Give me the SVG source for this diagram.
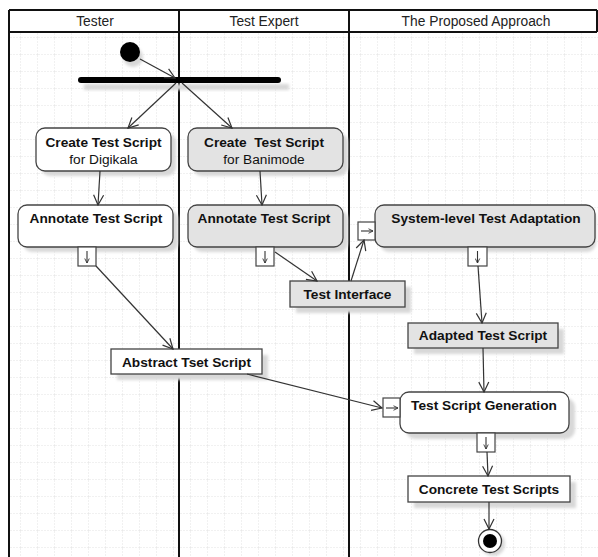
<svg xmlns="http://www.w3.org/2000/svg" width="598" height="557" viewBox="0 0 598 557">
<defs>
<pattern id="grid" width="17" height="17" patternUnits="userSpaceOnUse" x="4" y="4">
<path d="M17,0 V17 M0,17 H17" fill="none" stroke="#e2e2e2" stroke-width="1" stroke-dasharray="2,1"/>
</pattern>
<filter id="blur" x="-20%" y="-20%" width="140%" height="140%"><feGaussianBlur stdDeviation="1.5"/></filter>
<marker id="arr" viewBox="0 0 12 12" refX="11" refY="6" markerWidth="12" markerHeight="12" markerUnits="userSpaceOnUse" orient="auto">
<path d="M1,1 L11,6 L1,11" fill="none" stroke="#333" stroke-width="1.2"/>
</marker>
<marker id="pinarr" viewBox="0 0 8 8" refX="7" refY="4" markerWidth="6" markerHeight="6" markerUnits="userSpaceOnUse" orient="auto">
<path d="M1,1 L7,4 L1,7" fill="none" stroke="#333" stroke-width="1.2"/>
</marker>
</defs>
<style>
.sh{fill:#d8d8d8;filter:url(#blur);}
.act{stroke:#444;stroke-width:1.3;}
.w{fill:#fff;}
.g{fill:#e3e3e3;}
.t{font-family:"Liberation Sans",Arial,sans-serif;font-size:13.7px;fill:#111;text-anchor:middle;}
.b{font-weight:bold;}
.h{font-family:"Liberation Sans",Arial,sans-serif;font-size:13.8px;fill:#222;text-anchor:middle;}
.lane{stroke:#111;stroke-width:2;fill:none;}
.c{stroke:#333;stroke-width:1.2;fill:none;marker-end:url(#arr);}
.pin{fill:#fff;stroke:#444;stroke-width:1.2;}
.pa{stroke:#333;stroke-width:1.1;fill:none;marker-end:url(#pinarr);}
</style>
<rect width="598" height="557" fill="#fff"/>
<rect x="9" y="32" width="589" height="525" fill="url(#grid)"/>

<g id="lanes">
<rect x="9" y="10" width="588" height="22" fill="#fff"/>
<path class="lane" d="M9,10 H597 M9,32 H597 M9,10 V557 M179,10 V557 M349,10 V557 M597,10 V32"/>
<text class="h" x="95" y="26">Tester</text>
<text class="h" x="264" y="26">Test Expert</text>
<text class="h" x="476" y="26">The Proposed Approach</text>
</g>

<g id="start">
<circle cx="133" cy="57" r="10" class="sh"/>
<circle cx="130" cy="52" r="10" fill="#000"/>
</g>

<g id="fork">
<rect x="84" y="84" width="205" height="6" class="sh"/>
<rect x="78" y="77" width="203" height="6" rx="3" fill="#000"/>
</g>

<g id="create-digikala">
<rect x="41" y="133" width="135" height="43" rx="9" class="sh"/>
<rect x="36" y="128" width="135" height="43" rx="9" class="act w"/>
<text class="t b" x="103.5" y="147">Create Test Script</text>
<text class="t" x="103.5" y="164">for Digikala</text>
</g>

<g id="create-banimode">
<rect x="193" y="133" width="155" height="43" rx="9" class="sh"/>
<rect x="188" y="128" width="155" height="43" rx="9" class="act g"/>
<text class="t b" x="264" y="147" xml:space="preserve">Create  Test Script</text>
<text class="t" x="264" y="164">for Banimode</text>
</g>

<g id="annotate-tester">
<rect x="23" y="210" width="155" height="42" rx="9" class="sh"/>
<rect x="18" y="205" width="155" height="42" rx="9" class="act w"/>
<text class="t b" x="96" y="223">Annotate Test Script</text>
<rect x="78" y="247" width="18" height="19" class="pin"/>
<path class="pa" d="M87,251 V263"/>
</g>

<g id="annotate-expert">
<rect x="193" y="210" width="155" height="42" rx="9" class="sh"/>
<rect x="188" y="205" width="155" height="42" rx="9" class="act g"/>
<text class="t b" x="264" y="223">Annotate Test Script</text>
<rect x="256" y="247" width="18" height="19" class="pin"/>
<path class="pa" d="M265,251 V263"/>
</g>

<g id="system-level">
<rect x="380" y="210" width="216" height="42" rx="9" class="sh"/>
<rect x="375" y="205" width="220" height="42" rx="9" class="act g"/>
<text class="t b" x="486" y="223">System-level Test Adaptation</text>
<rect x="358" y="222" width="17" height="18" class="pin"/>
<path class="pa" d="M361,231 H373"/>
<rect x="468" y="247" width="19" height="19" class="pin"/>
<path class="pa" d="M477.5,251 V263"/>
</g>

<g id="test-interface">
<rect x="296" y="287" width="115" height="26" class="sh"/>
<rect x="290" y="281" width="115" height="26" class="act g"/>
<text class="t b" x="347.5" y="299">Test Interface</text>
</g>

<g id="adapted">
<rect x="414" y="329" width="150" height="25" class="sh"/>
<rect x="408" y="323" width="150" height="25" class="act g"/>
<text class="t b" x="483" y="340">Adapted Test Script</text>
</g>

<g id="abstract">
<rect x="117" y="355" width="151" height="25" class="sh"/>
<rect x="111" y="349" width="151" height="25" class="act w"/>
<text class="t b" x="186.5" y="367">Abstract Tset Script</text>
</g>

<g id="generation">
<rect x="406" y="398" width="169" height="41" rx="9" class="sh"/>
<rect x="400" y="392" width="169" height="41" rx="9" class="act w"/>
<text class="t b" x="484" y="410">Test Script Generation</text>
<rect x="383" y="398" width="17" height="19" class="pin"/>
<path class="pa" d="M386,408 H398"/>
<rect x="477" y="433" width="18" height="19" class="pin"/>
<path class="pa" d="M486,437 V449"/>
</g>

<g id="concrete">
<rect x="414" y="482" width="162" height="26" class="sh"/>
<rect x="408" y="476" width="162" height="26" class="act w"/>
<text class="t b" x="489" y="494">Concrete Test Scripts</text>
</g>

<g id="end">
<circle cx="493" cy="544" r="12" class="sh"/>
<circle cx="490" cy="541" r="11.5" fill="#fff" stroke="#333" stroke-width="1.3"/>
<circle cx="490" cy="541" r="7" fill="#000"/>
</g>

<g id="connectors">
<path class="c" d="M140,59 L175,78"/>
<path class="c" d="M176,83 L128,128"/>
<path class="c" d="M182,83 L232,128"/>
<path class="c" d="M100,171 L98,205"/>
<path class="c" d="M260,171 L262,205"/>
<path class="c" d="M96,266 L173,349"/>
<path class="c" d="M275,252 L317,281"/>
<path class="c" d="M351,281 L364,240"/>
<path class="c" d="M478,266 L482,323"/>
<path class="c" d="M483,348 L484,392"/>
<path class="c" d="M247,374 L382,408"/>
<path class="c" d="M487,452 L488,476"/>
<path class="c" d="M489,502 L489,529"/>
</g>
</svg>
